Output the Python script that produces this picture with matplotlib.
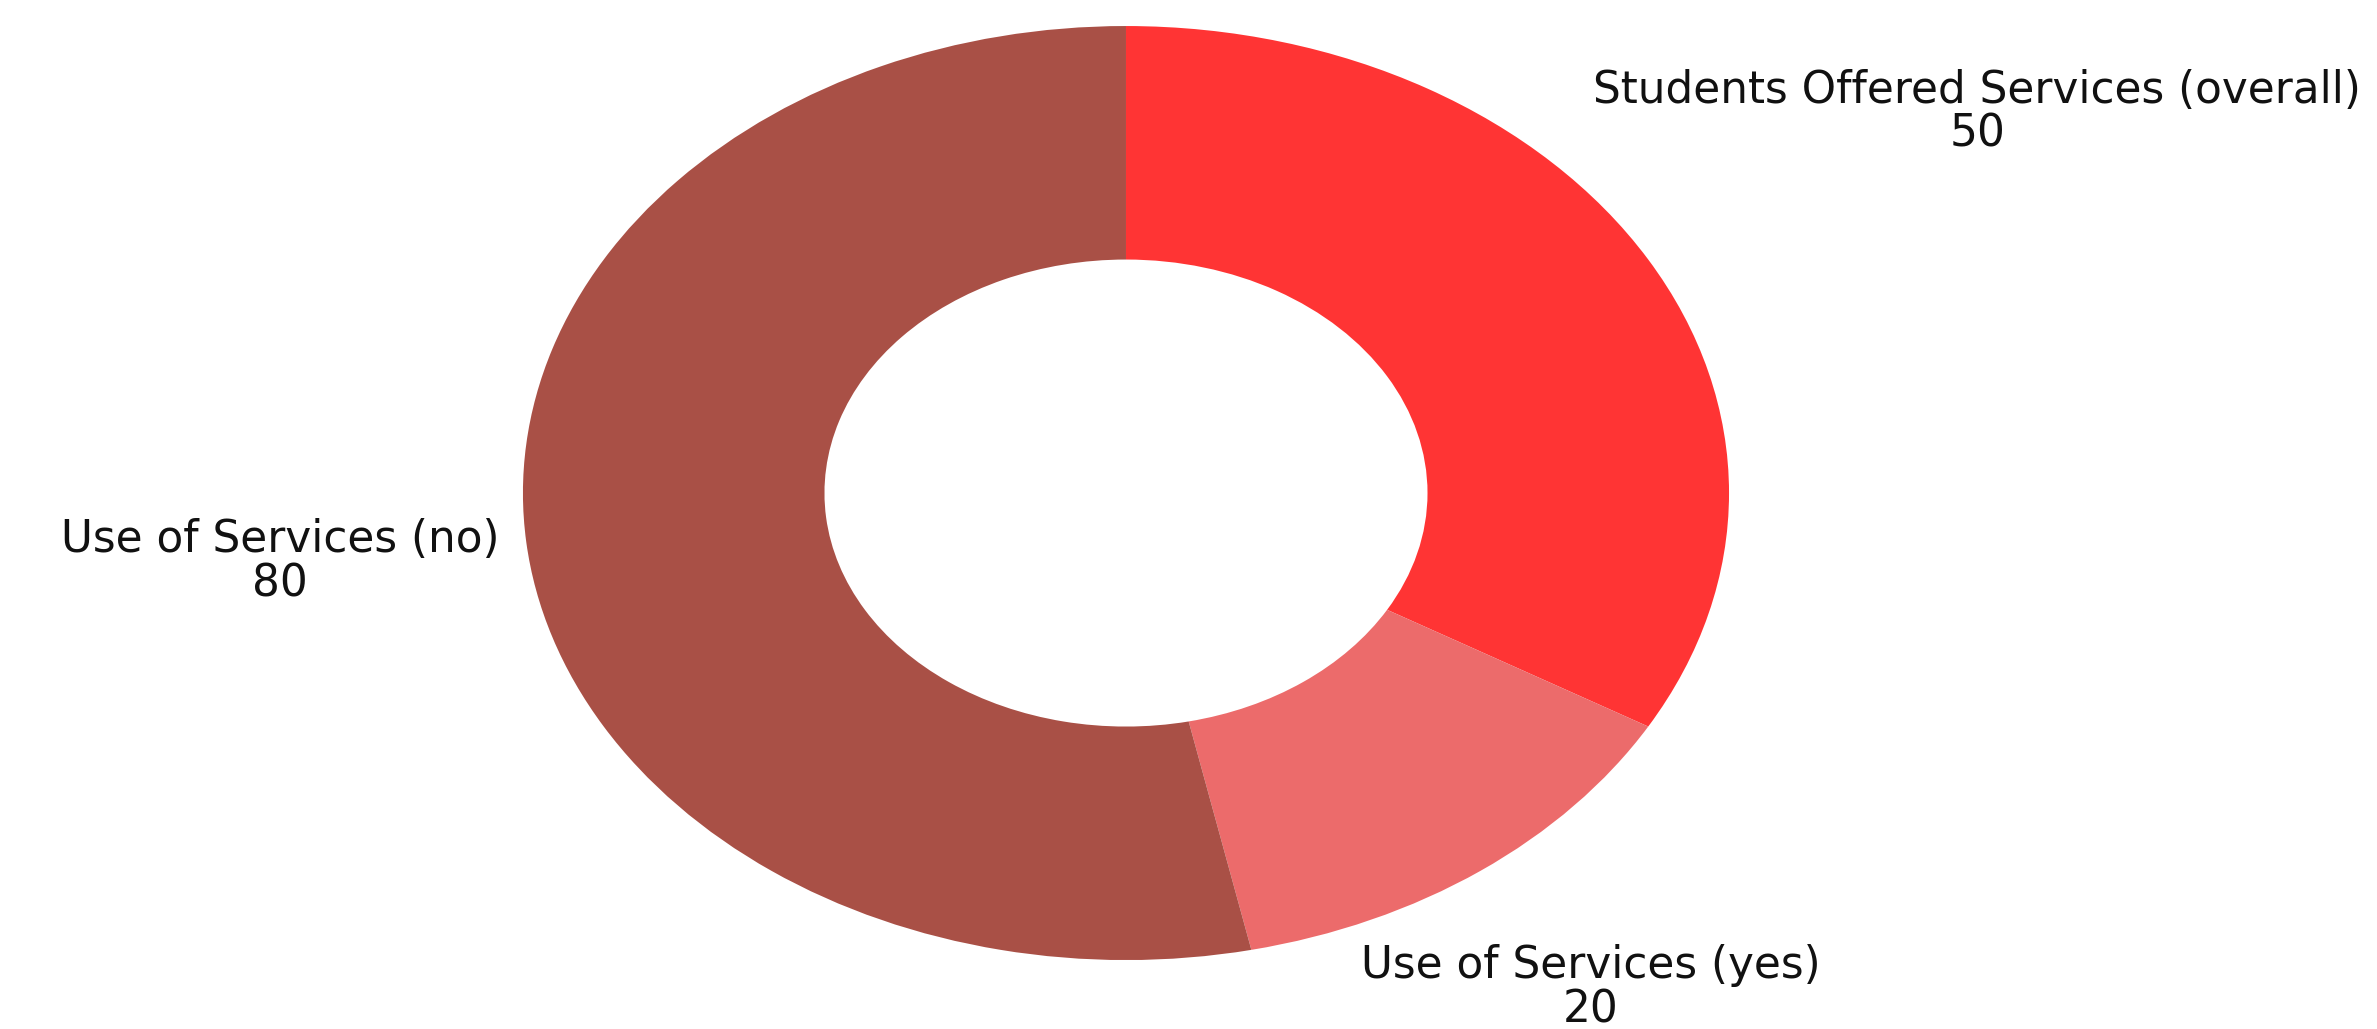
import numpy as np
import matplotlib
matplotlib.use('Agg')
import matplotlib.pyplot as plt

# Slice data
labels = ['Students Offered Services (overall)', 'Use of Services (yes)', 'Use of Services (no)']
values = [50, 20, 80]
colors = ['#FF3434', '#EC6B6B', '#A95046']
# how far out each label sits (in radii)
label_dist = [1.63, 1.31, 1.41]

plt.rcParams['font.family'] = ['DejaVu Sans']

fig = plt.figure(figsize=(23.77, 10.29), dpi=100)
ax = fig.add_axes([0.220, 0.067, 0.5074, 0.9077])

wedges, _ = ax.pie(values, colors=colors, startangle=90, counterclock=False,
                   radius=1.0, wedgeprops=dict(width=0.5, linewidth=0))
ax.set_aspect('auto')
ax.set_xlim(-1, 1)
ax.set_ylim(-1, 1)
ax.axis('off')

# Labels: name and value, placed along each wedge's middle angle
for w, lab, val, d in zip(wedges, labels, values, label_dist):
    mid = np.deg2rad((w.theta1 + w.theta2) / 2)
    ax.text(d * np.cos(mid), d * np.sin(mid), f'{lab}\n{val}',
            ha='center', va='center', fontsize=31.5, color='#111111',
            linespacing=1.03, clip_on=False)

fig.savefig('out.png', dpi=100, facecolor='white')
